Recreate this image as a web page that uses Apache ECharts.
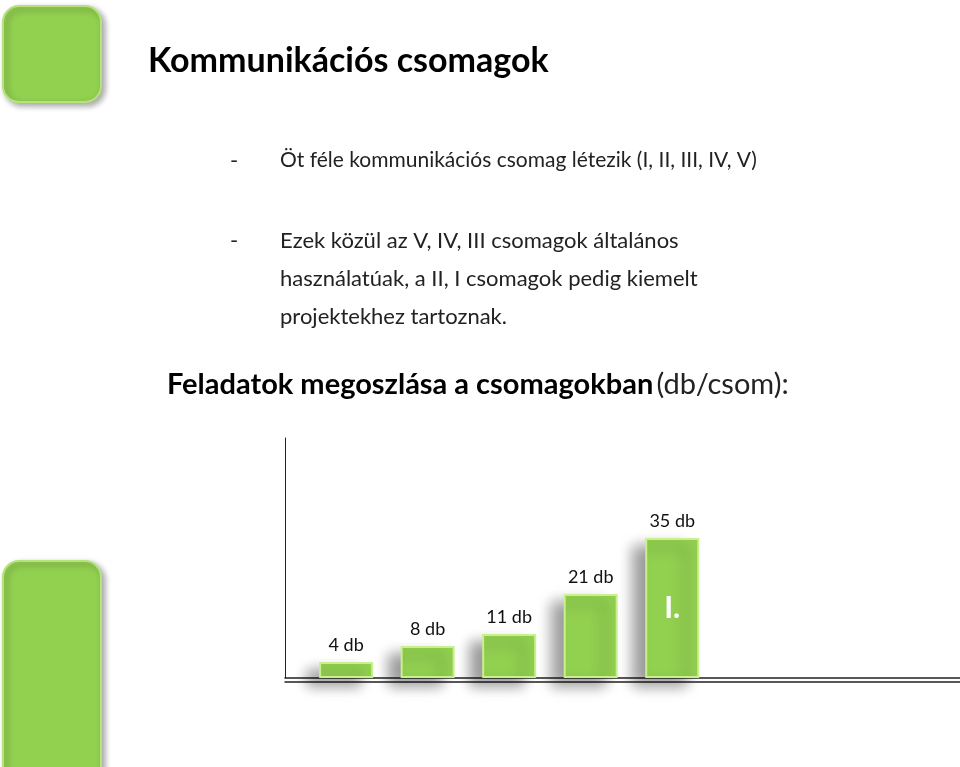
<!DOCTYPE html>
<html>
<head>
<meta charset="utf-8">
<script src="https://cdn.jsdelivr.net/npm/echarts@6/dist/echarts.min.js"></script>
<style>html,body{margin:0;padding:0;background:#fff}#chart{width:960px;height:767px}</style>
</head>
<body>
<div id="chart"></div>
<script>
// csomagok, feladatok száma (db)
var categories = ['V.', 'IV.', 'III.', 'II.', 'I.'];
var counts = [4, 8, 11, 21, 35];
var positions = [0.75, 1.75, 2.75, 3.75, 4.75];
var insideLabels = ['', '', '', '', 'I.'];

var font = 'Lato';
var chart = echarts.init(document.getElementById('chart'));

var barData = counts.map(function (v, i) { return [positions[i], v]; });

var option = {
  animation: false,
  grid: { left: 285, right: 0, top: 438, bottom: 89 },
  xAxis: [
    { type: 'value', min: 0, max: 8.28, axisLine: { show: true, lineStyle: { color: '#222', width: 1.5 } },
      axisTick: { show: false }, axisLabel: { show: false }, splitLine: { show: false } },
    { type: 'value', min: 0, max: 8.28, position: 'bottom', offset: 4,
      axisLine: { show: true, lineStyle: { color: '#222', width: 1.5 } },
      axisTick: { show: false }, axisLabel: { show: false }, splitLine: { show: false } }
  ],
  yAxis: { type: 'value', min: 0, max: 60, axisLine: { show: true, lineStyle: { color: '#222', width: 1 } },
    axisTick: { show: false }, axisLabel: { show: false }, splitLine: { show: false } },
  graphic: [
    { type: 'rect', shape: { x: 3, y: 6, width: 98, height: 96, r: 16 },
      style: { fill: '#92d050', stroke: '#b5e27c', lineWidth: 2, shadowBlur: 6, shadowOffsetX: 3, shadowOffsetY: 3, shadowColor: 'rgba(0,0,0,0.35)' } },
    { type: 'rect', shape: { x: 3, y: 561, width: 98, height: 230, r: 16 },
      style: { fill: '#92d050', stroke: '#b5e27c', lineWidth: 2, shadowBlur: 6, shadowOffsetX: 3, shadowOffsetY: 3, shadowColor: 'rgba(0,0,0,0.35)' } },
    { type: 'text', left: 148, top: 44, style: { text: 'Kommunikációs csomagok', font: 'bold 34px ' + font, fill: '#000' } },
    { type: 'text', left: 230, top: 150, style: { text: '-', font: '22px ' + font, fill: '#222' } },
    { type: 'text', left: 280, top: 150, style: { text: 'Öt féle kommunikációs csomag létezik (I, II, III, IV, V)', font: '21px ' + font, fill: '#222' } },
    { type: 'text', left: 230, top: 222, style: { text: '-', font: '22px ' + font, lineHeight: 38, fill: '#222' } },
    { type: 'text', left: 280, top: 222, style: { text: 'Ezek közül az V, IV, III csomagok általános\nhasználatúak, a II, I csomagok pedig kiemelt\nprojektekhez tartoznak.', font: '22px ' + font, lineHeight: 38, fill: '#222' } },
    { type: 'text', left: 167, top: 370, style: {
      text: '{b|Feladatok megoszlása a csomagokban} {n|(db/csom):}',
      rich: { b: { font: 'bold 29px ' + font, fill: '#000' }, n: { font: '29px ' + font, fill: '#222' } } } }
  ],
  series: [
    { type: 'bar', data: barData, barWidth: 54,
      itemStyle: { color: '#92d050', borderColor: '#c8f08c', borderWidth: 2,
        shadowBlur: 14, shadowOffsetX: -12, shadowOffsetY: 8, shadowColor: 'rgba(0,0,0,0.4)' },
      label: { show: true, position: 'top', distance: 8, formatter: function (p) { return p.value[1] + ' db'; },
        fontFamily: font, fontSize: 18, color: '#111' } },
    { type: 'bar', data: barData, barWidth: 54, barGap: '-100%', silent: true,
      itemStyle: { color: 'rgba(0,0,0,0)' },
      label: { show: true, position: 'inside', formatter: function (p) { return insideLabels[p.dataIndex]; },
        fontFamily: font, fontSize: 30, fontWeight: 'bold', color: '#fff' } }
  ]
};
chart.setOption(option);
</script>
</body>
</html>
